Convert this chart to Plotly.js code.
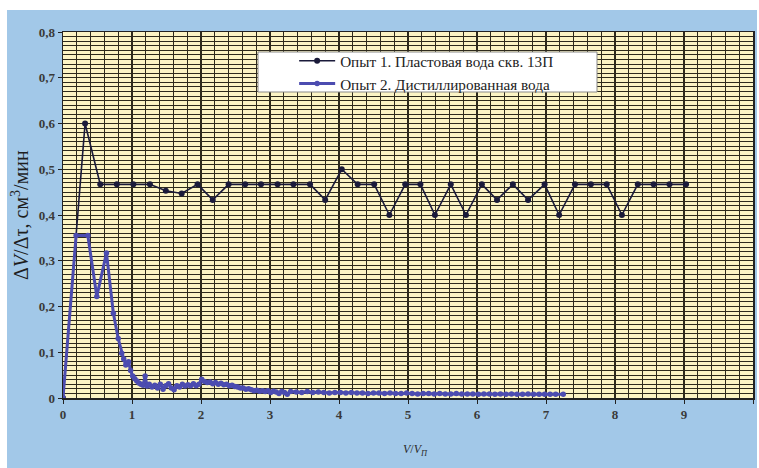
<!DOCTYPE html>
<html>
<head>
<meta charset="utf-8">
<script src="https://cdn.plot.ly/plotly-3.0.1.min.js"></script>
<style>
html,body{margin:0;padding:0;background:#ffffff;width:759px;height:468px;overflow:hidden;}
#chart{position:absolute;left:7px;top:10px;width:750px;height:458px;}
</style>
</head>
<body>
<div id="chart"></div>
<script>
// Series names
const seriesNames = ["Опыт 1. Пластовая вода скв. 13П", "Опыт 2. Дистиллированная вода"];

// Опыт 1
const exp1X = [0, 0.32, 0.54, 0.78, 1.02, 1.26, 1.49, 1.72, 1.95, 2.17, 2.40, 2.64, 2.87, 3.11, 3.34, 3.58, 3.80, 4.04, 4.27, 4.51, 4.73, 4.96, 5.18, 5.39, 5.62, 5.84, 6.07, 6.29, 6.52, 6.74, 6.98, 7.19, 7.42, 7.65, 7.88, 8.10, 8.33, 8.56, 8.79, 9.03];
const exp1Y = [0, 0.600, 0.467, 0.467, 0.467, 0.467, 0.453, 0.447, 0.467, 0.433, 0.467, 0.467, 0.467, 0.467, 0.467, 0.467, 0.433, 0.500, 0.467, 0.467, 0.400, 0.467, 0.467, 0.400, 0.467, 0.400, 0.467, 0.433, 0.467, 0.433, 0.467, 0.400, 0.467, 0.467, 0.467, 0.400, 0.467, 0.467, 0.467, 0.467];

// Опыт 2
const exp2X = [0, 0.19, 0.36, 0.49, 0.63, 0.73, 0.80, 0.85, 0.88, 0.91, 0.95, 0.98, 1.01, 1.04, 1.07, 1.10, 1.13, 1.16, 1.19, 1.22, 1.25, 1.29, 1.33, 1.37, 1.41, 1.45, 1.49, 1.53, 1.57, 1.61, 1.65, 1.69, 1.73, 1.77, 1.81, 1.85, 1.89, 1.93, 1.97, 2.01, 2.05, 2.09, 2.13, 2.17, 2.21, 2.25, 2.29, 2.33, 2.37, 2.41, 2.45, 2.49, 2.53, 2.57, 2.61, 2.65, 2.69, 2.73, 2.77, 2.81, 2.85, 2.89, 2.93, 2.97, 3.01, 3.05, 3.09, 3.13, 3.17, 3.21, 3.25, 3.30,
  3.38, 3.46, 3.54, 3.62, 3.70, 3.78, 3.86, 3.94, 4.02, 4.10, 4.18, 4.26, 4.34, 4.42, 4.50, 4.58, 4.66, 4.74, 4.82, 4.90, 4.98, 5.06, 5.14, 5.22, 5.30, 5.38, 5.46, 5.54, 5.62, 5.70, 5.78, 5.86, 5.94, 6.02, 6.10, 6.18, 6.26, 6.34, 6.42, 6.50, 6.58, 6.66, 6.74, 6.82, 6.90, 6.98, 7.06, 7.14, 7.25];
const exp2Y = [0, 0.355, 0.355, 0.222, 0.317, 0.185, 0.130, 0.098, 0.085, 0.072, 0.079, 0.060, 0.048, 0.042, 0.037, 0.033, 0.030, 0.028, 0.048, 0.026, 0.030, 0.024, 0.028, 0.022, 0.030, 0.019, 0.027, 0.031, 0.022, 0.018, 0.027, 0.024, 0.030, 0.026, 0.029, 0.027, 0.031, 0.027, 0.030, 0.041, 0.036, 0.034, 0.035, 0.031, 0.034, 0.030, 0.032, 0.029, 0.030, 0.027, 0.028, 0.025, 0.024, 0.022, 0.022, 0.019, 0.020, 0.018, 0.016, 0.017, 0.015, 0.016, 0.014, 0.016, 0.012, 0.015, 0.013, 0.010, 0.014, 0.012, 0.008, 0.014,
  0.013, 0.012, 0.014, 0.012, 0.013, 0.012, 0.011, 0.012, 0.012, 0.011, 0.012, 0.011, 0.011, 0.010, 0.011, 0.011, 0.010, 0.011, 0.010, 0.010, 0.011, 0.010, 0.009, 0.010, 0.010, 0.009, 0.010, 0.009, 0.009, 0.010, 0.009, 0.009, 0.009, 0.008, 0.009, 0.009, 0.008, 0.009, 0.008, 0.009, 0.008, 0.008, 0.009, 0.008, 0.008, 0.008, 0.008, 0.008, 0.008];

const serif = "Liberation Serif";
const gridDark = "#2e2a1c";

const traces = [
  {
    x: exp1X, y: exp1Y, name: seriesNames[0], type: "scatter", mode: "lines+markers",
    line: {color: "#1a1a3a", width: 1.6},
    marker: {color: "#1a1a3a", size: 6, symbol: "circle"}
  },
  {
    x: exp2X, y: exp2Y, name: seriesNames[1], type: "scatter", mode: "lines+markers",
    line: {color: "#4c4cb0", width: 3},
    marker: {color: "#4c4cb0", size: 5.5, symbol: "circle"}
  }
];

const layout = {
  width: 750, height: 458,
  margin: {l: 56, r: 4, t: 22, b: 70},
  paper_bgcolor: "#a2c8e8",
  plot_bgcolor: "#fcf4c4",
  separators: ", ",
  showlegend: true,
  legend: {
    x: 0.335, y: 0.966, xanchor: "left", yanchor: "top",
    bgcolor: "rgba(0,0,0,0)", borderwidth: 0, itemwidth: 36,
    font: {family: serif, size: 15.2, color: "#222222"},
    tracegroupgap: 0
  },
  xaxis: {
    range: [0, 10], dtick: 1, tick0: 0,
    showgrid: true, gridcolor: gridDark, gridwidth: 1.2,
    minor: {dtick: 0.2, showgrid: true, gridcolor: gridDark, gridwidth: 1.1, ticks: ""},
    showline: true, linecolor: "#222222", linewidth: 1.5, mirror: true,
    ticks: "outside", ticklen: 4, tickcolor: "#222222",
    tickfont: {family: serif, size: 13, color: "#3a3a3a", weight: "bold"},
    zeroline: false, fixedrange: true
  },
  yaxis: {
    range: [0, 0.8], dtick: 0.1, tick0: 0,
    showgrid: true, gridcolor: gridDark, gridwidth: 1,
    minor: {dtick: 0.01, showgrid: true, gridcolor: gridDark, gridwidth: 1, ticks: ""},
    showline: true, linecolor: "#222222", linewidth: 1.5, mirror: true,
    ticks: "outside", ticklen: 4, tickcolor: "#222222",
    tickfont: {family: serif, size: 13, color: "#3a3a3a", weight: "bold"},
    zeroline: false, fixedrange: true
  },
  shapes: [
    {type: "rect", xref: "paper", yref: "paper", layer: "above",
     x0: (258 - 63) / 690, x1: (597 - 63) / 690, y0: (398 - 92) / 366, y1: (398 - 52) / 366,
     fillcolor: "#ffffff", line: {color: "#8a8a8a", width: 1}}
  ],
  annotations: [
    {text: "Δ<i>V</i>/Δτ, см<sup>3</sup>/мин", xref: "paper", yref: "paper",
     x: (20 - 63) / 690, y: 0.5, xanchor: "center", yanchor: "middle", textangle: -90,
     showarrow: false, font: {family: serif, size: 20, color: "#1e1e1e"}},
    {text: "<i>V</i>/<i>V</i><sub><i>П</i></sub>", xref: "paper", yref: "paper",
     x: (415 - 63) / 690, y: (398 - 450) / 366, xanchor: "center", yanchor: "middle",
     showarrow: false, font: {family: serif, size: 12, color: "#2a2a2a"}}
  ]
};

Plotly.newPlot("chart", traces, layout, {displayModeBar: false, staticPlot: true});
</script>
</body>
</html>
